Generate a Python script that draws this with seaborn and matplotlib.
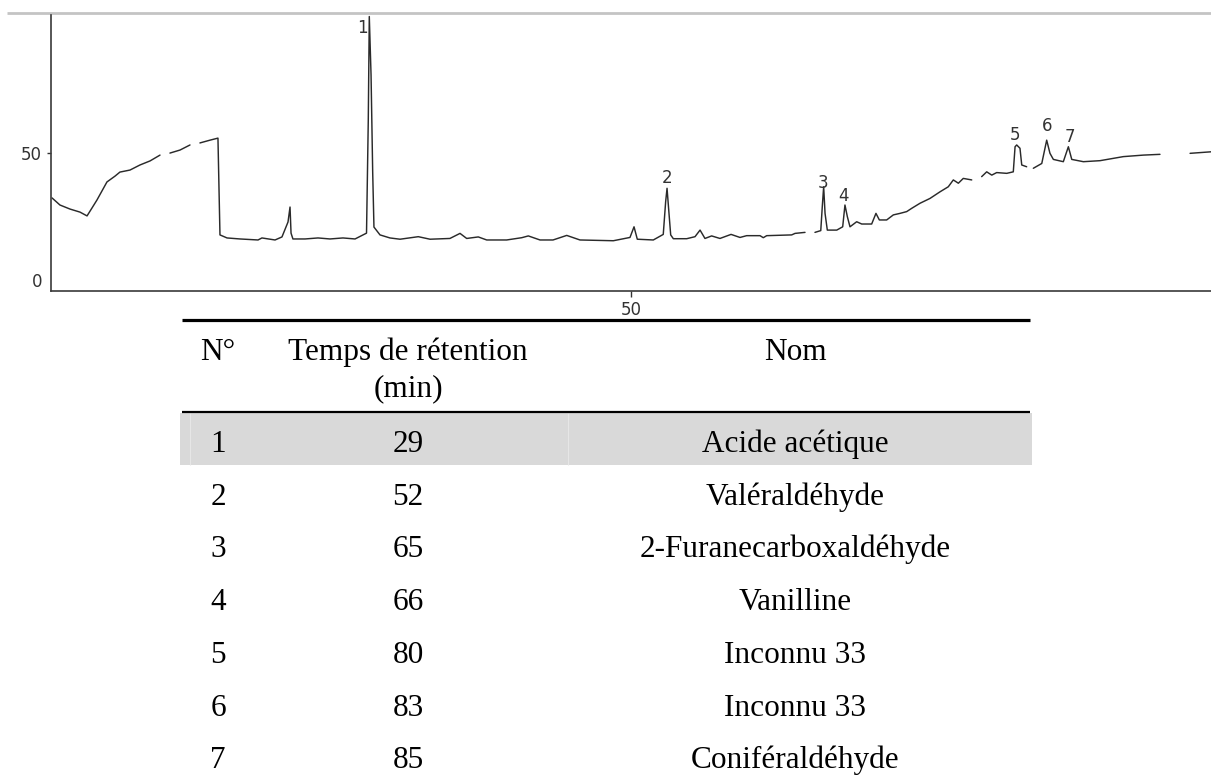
import numpy as np
import pandas as pd
import matplotlib
matplotlib.use("Agg")
import matplotlib.pyplot as plt
from matplotlib.patches import Rectangle
import seaborn as sns

# ---------------- data ----------------
# chromatogram trace: retention time (min) and detector signal; NaN = break in trace
time_min = [4.05, 4.68, 5.48, 6.27, 6.83, 7.22, 7.62, 8.41, 9.05, 9.44, 10.24, 11.03,
            11.83, 12.62, np.nan,
            13.41, 14.21, 15.00, np.nan,
            15.79, 16.59, 17.22, 17.30, 17.38, 17.94, 18.97, 20.40, 20.71, 21.75,
            22.30, 22.78, 22.94, 23.02, 23.17, 24.13, 25.16, 26.11, 27.14, 28.10,
            29.01, 29.15, 29.23, 29.37, 29.50, 29.60, 30.08, 30.87,
            31.67, 33.12, 34.05, 35.63, 36.43, 36.96, 37.88, 38.55, 40.13, 41.33,
            41.85, 42.78, 43.81, 44.90, 45.95, 48.60, 49.92, 50.24, 50.50, 51.77,
            52.56, 52.75, 52.86, 52.99, 53.15, 53.36, 54.42, 55.08, 55.48, 55.87,
            56.40, 57.06, 57.94, 58.65, 59.18, 60.24, 60.50, 60.77, 62.75, 63.02,
            63.81, np.nan,
            64.60, 65.06, 65.18, 65.29, 65.40, 65.58, 66.33, 66.80, 66.98, 67.17,
            67.38, 67.91, 68.31, 69.10, 69.44, 69.71, 70.29, 70.82, 71.35, 71.88,
            72.28, 72.94, 73.73, 74.52, 75.18, 75.58, 75.98, 76.37, 77.04, np.nan,
            77.83, 78.23, 78.63, 79.02, 79.82, 80.34, 80.48, 80.61, 80.87, 81.01,
            81.40, np.nan,
            81.93, 82.60, 82.99, 83.25, 83.52, 84.31, 84.71, 84.98, 85.90, 87.22,
            89.07, 90.66, 91.98, np.nan,
            94.37, 96.03]
signal = [32.4, 29.6, 28.0, 26.8, 25.3, 28.4, 31.6, 38.7, 41.0, 42.6, 43.4, 45.4,
          47.0, 49.3, np.nan,
          50.1, 51.3, 53.3, np.nan,
          54.1, 55.2, 56.0, 36.7, 17.8, 16.6, 16.2, 15.8, 16.6, 15.8,
          17.0, 22.9, 28.8, 18.5, 16.2, 16.2, 16.6, 16.2, 16.6, 16.2,
          18.5, 63.1, 104.0, 80.9, 42.6, 20.9, 17.8, 16.6,
          16.1, 17.1, 16.1, 16.4, 18.4, 16.4, 17.0, 15.8, 15.8, 16.7,
          17.4, 15.8, 15.8, 17.6, 15.8, 15.5, 16.8, 21.0, 16.1, 15.8,
          18.0, 30.9, 36.2, 27.9, 17.8, 16.3, 16.3, 17.1, 19.7, 16.4,
          17.4, 16.4, 18.0, 16.8, 17.5, 17.5, 16.7, 17.5, 17.8, 18.4,
          18.8, np.nan,
          18.8, 19.5, 28.9, 36.8, 26.3, 19.7, 19.7, 21.0, 29.6, 25.0,
          21.0, 23.0, 22.1, 22.1, 26.3, 23.7, 23.7, 25.7, 26.3, 27.0,
          28.3, 30.3, 32.2, 34.8, 36.8, 39.5, 38.2, 40.1, 39.5, np.nan,
          40.8, 42.7, 41.4, 42.4, 42.1, 42.7, 52.6, 53.3, 52.0, 45.4,
          44.7, np.nan,
          44.1, 46.0, 55.2, 50.0, 47.6, 46.7, 52.6, 47.6, 46.7, 47.1,
          48.7, 49.3, 49.6, np.nan,
          50.0, 50.6]

peak_ids = ["1", "2", "3", "4", "5", "6", "7"]
peak_label_t = [28.7, 52.86, 65.2, 66.9, 80.5, 83.0, 84.8]
peak_label_y = [99.4, 40.2, 38.3, 33.2, 57.2, 60.8, 56.4]

x_ticks = [50]
y_ticks = [0, 50]

header_no = "N°"
header_rt = ["Temps de rétention", "(min)"]
header_name = "Nom"
table_no = ["1", "2", "3", "4", "5", "6", "7"]
table_rt = ["29", "52", "65", "66", "80", "83", "85"]
table_name = ["Acide acétique", "Valéraldéhyde", "2-Furanecarboxaldéhyde", "Vanilline",
              "Inconnu 33", "Inconnu 33", "Coniféraldéhyde"]

# ---------------- figure ----------------
sns.set_theme(style="white")
plt.rcParams["font.family"] = ["DejaVu Sans"]

W, H = 1211, 781
fig = plt.figure(figsize=(W / 100, H / 100), dpi=100)
fig.patch.set_facecolor("white")

# overlay (pixel coordinates) for page line and table
tx = fig.add_axes([0, 0, 1, 1], zorder=0)
tx.set_xlim(0, W)
tx.set_ylim(H, 0)
tx.axis("off")
tx.patch.set_alpha(0)

# chromatogram axes
ax = fig.add_axes([51 / W, 1 - 291 / H, (W - 51) / W, 276 / H], zorder=1)
ax.patch.set_alpha(0)

t_arr = np.array(time_min, dtype=float)
s_arr = np.array(signal, dtype=float)
seg = np.cumsum(np.isnan(s_arr))
df = pd.DataFrame({"t": t_arr, "signal": s_arr, "seg": seg}).dropna()
sns.lineplot(data=df, x="t", y="signal", units="seg", estimator=None, sort=False,
             color="#2a2a2a", lw=1.05, ax=ax, legend=False)

ax.set_xlim(3.97, 96.03)
ax.set_ylim(-4.34, 104.6)
ax.set_xlabel("")
ax.set_ylabel("")
ax.set_xticks(x_ticks)
ax.set_yticks(y_ticks)
ax.tick_params(axis="x", bottom=True, length=4.3, width=1.0, pad=3.0,
               labelsize=12, colors="#333333")
ax.tick_params(axis="y", left=True, length=3.0, width=1.0, pad=3.5,
               labelsize=12, colors="#333333")
# the reference shows no tick mark at 0, only the label
ax.yaxis.get_major_ticks()[0].tick1line.set_visible(False)
for side in ["top", "right"]:
    ax.spines[side].set_visible(False)
for side in ["left", "bottom"]:
    ax.spines[side].set_color("#3a3a3a")
    ax.spines[side].set_linewidth(1.2)

for lab, t, y in zip(peak_ids, peak_label_t, peak_label_y):
    ax.text(t, y, lab, ha="center", va="center", fontsize=12, color="#333333")

# page line at top
tx.hlines(12.7, 7, W, color="#c4c4c4", lw=2.0)

# table
serif = ["Liberation Serif", "DejaVu Serif"]
fs = 22.5
tx.add_patch(Rectangle((180, 413), 852, 52, facecolor="#d9d9d9", edgecolor="none"))
tx.vlines([190, 568], 413, 465, color="#e6e6e6", lw=0.8)
tx.hlines(320, 182, 1030, color="black", lw=2.3)
tx.hlines(412, 182, 1030, color="black", lw=1.6)

col_x = [218, 408, 795]
tx.text(col_x[0], 360, header_no, ha="center", va="baseline", fontsize=fs, family=serif, color="black")
tx.text(col_x[1], 360, header_rt[0], ha="center", va="baseline", fontsize=fs, family=serif, color="black")
tx.text(col_x[1], 396, header_rt[1], ha="center", va="baseline", fontsize=fs, family=serif, color="black")
tx.text(col_x[2], 360, header_name, ha="center", va="baseline", fontsize=fs, family=serif, color="black")

for i, (n, rt, name) in enumerate(zip(table_no, table_rt, table_name)):
    yb = 452 + i * 52.7
    tx.text(col_x[0], yb, n, ha="center", va="baseline", fontsize=fs, family=serif, color="black")
    tx.text(col_x[1], yb, rt, ha="center", va="baseline", fontsize=fs, family=serif, color="black")
    tx.text(col_x[2], yb, name, ha="center", va="baseline", fontsize=fs, family=serif, color="black")

fig.savefig("out.png", dpi=100)
